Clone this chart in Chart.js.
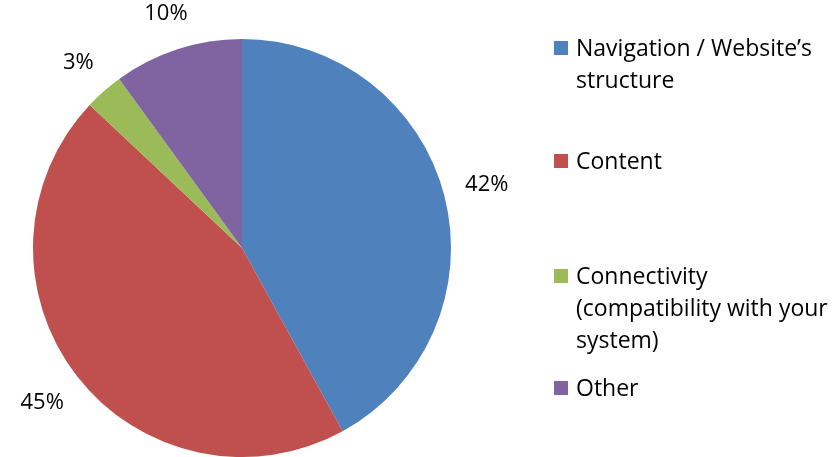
<!DOCTYPE html>
<html>
<head>
<meta charset="utf-8">
<script src="https://cdn.jsdelivr.net/npm/chart.js@4/dist/chart.umd.min.js"></script>
<style>
  html, body { margin: 0; padding: 0; background: #fff; }
  #wrap { position: relative; width: 838px; height: 457px; overflow: hidden; }
  #legend { position: absolute; left: 554px; top: 0; font-family: "Open Sans", Lato, sans-serif; font-size: 23px; color: #000; }
  .item { position: absolute; left: 0; width: 300px; line-height: 32px; white-space: nowrap; }
  .item .sw { position: absolute; left: 0; width: 14px; height: 14px; top: 10px; }
  .item .tx { margin-left: 22px; display: block; }
</style>
</head>
<body>
<div id="wrap">
  <canvas id="c" width="838" height="457"></canvas>
  <div id="legend"></div>
</div>
<script>
const categories = ["Navigation / Website’s structure", "Content", "Connectivity (compatibility with your system)", "Other"];
const legendLines = [["Navigation / Website’s", "structure"], ["Content"], ["Connectivity", "(compatibility with your", "system)"], ["Other"]];
const values = [42, 45, 3, 10];
const valueLabels = ["42%", "45%", "3%", "10%"];
const colors = ["#4F81BD", "#C0504D", "#9BBB59", "#8064A2"];
const legendTops = [31, 144, 259, 371];

const labelPlugin = {
  id: 'outLabels',
  afterDatasetsDraw(chart) {
    const ctx = chart.ctx;
    const meta = chart.getDatasetMeta(0);
    ctx.save();
    ctx.font = '22px "Open Sans", Lato, sans-serif';
    ctx.fillStyle = '#000';
    ctx.textAlign = 'center';
    ctx.textBaseline = 'middle';
    meta.data.forEach((arc, i) => {
      const p = arc.getProps(['x', 'y', 'startAngle', 'endAngle', 'outerRadius'], true);
      const mid = (p.startAngle + p.endAngle) / 2;
      const dx = Math.cos(mid), dy = Math.sin(mid);
      const w = ctx.measureText(valueLabels[i]).width / 2, h = 11;
      const d = p.outerRadius + 20 + w * Math.abs(dx) + h * Math.abs(dy);
      ctx.fillText(valueLabels[i], p.x + d * dx, p.y + d * dy);
    });
    ctx.restore();
  }
};

new Chart(document.getElementById('c'), {
  type: 'pie',
  data: {
    labels: categories,
    datasets: [{ data: values, backgroundColor: colors, borderWidth: 0 }]
  },
  options: {
    responsive: false,
    animation: false,
    layout: { padding: { left: 33, right: 387, top: 39, bottom: 0 } },
    plugins: { legend: { display: false }, tooltip: { enabled: false } }
  },
  plugins: [labelPlugin]
});

const lg = document.getElementById('legend');
legendLines.forEach((lines, i) => {
  const it = document.createElement('div');
  it.className = 'item';
  it.style.top = legendTops[i] + 'px';
  const sw = document.createElement('span');
  sw.className = 'sw';
  sw.style.background = colors[i];
  it.appendChild(sw);
  lines.forEach(l => {
    const t = document.createElement('span');
    t.className = 'tx';
    t.textContent = l;
    it.appendChild(t);
  });
  lg.appendChild(it);
});
</script>
</body>
</html>
